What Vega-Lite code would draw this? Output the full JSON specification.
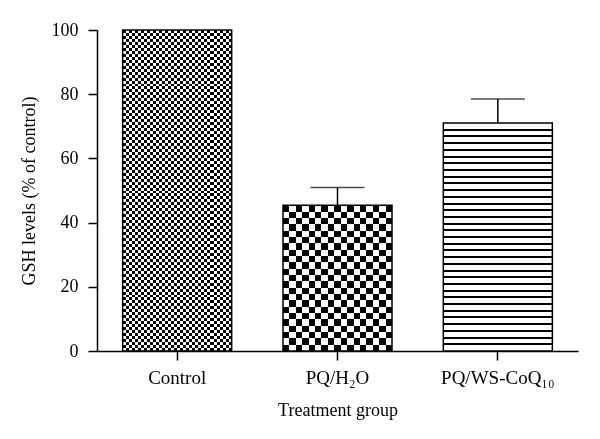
{
  "$schema": "https://vega.github.io/schema/vega-lite/v6.json",
  "autosize": "none",
  "padding": {"left": 97, "top": 30, "right": 22, "bottom": 88},
  "width": 481,
  "height": 321,
  "background": "white",
  "config": {
    "view": {"stroke": null},
    "font": "Liberation Serif",
    "axis": {"domainColor": "black", "domainWidth": 1.5, "tickColor": "black", "tickWidth": 1.5, "tickSize": 9, "labelFont": "Liberation Serif", "labelFontSize": 18, "labelColor": "black", "titleFont": "Liberation Serif", "titleFontSize": 18, "titleFontWeight": "normal", "titleColor": "black", "grid": false},
    "axisY": {"labelPadding": 10, "titlePadding": 13},
    "axisX": {"labelAngle": 0, "labelPadding": 8, "titlePadding": 14, "labelFontSize": 19}
  },
  "data": {"values": [
    {"group": "Control", "value": 100},
    {"group": "PQ/H₂O", "value": 45.4, "upper": 50.9},
    {"group": "PQ/WS-CoQ₁₀", "value": 71, "upper": 78.5}
  ]},
  "encoding": {
    "x": {"field": "group", "type": "nominal", "sort": null, "title": "Treatment group", "scale": {"paddingInner": 0.32, "paddingOuter": 0.16}},
    "y": {"field": "value", "type": "quantitative", "title": "GSH levels (% of control)", "scale": {"domain": [0, 100], "nice": false}, "axis": {"values": [0, 20, 40, 60, 80, 100]}}
  },
  "layer": [
    {
      "transform": [{"filter": "datum.group === 'Control'"}],
      "mark": {"type": "bar", "fill": {"gradient": "linear", "x1": 0, "y1": 0, "x2": 1, "y2": 0, "stops": [
        {"offset": 0, "color": "#fff"},
        {"offset": 0.0278, "color": "#fff"}, {"offset": 0.0278, "color": "#000"},
        {"offset": 0.0556, "color": "#000"}, {"offset": 0.0556, "color": "#fff"},
        {"offset": 0.0833, "color": "#fff"}, {"offset": 0.0833, "color": "#000"},
        {"offset": 0.1111, "color": "#000"}, {"offset": 0.1111, "color": "#fff"},
        {"offset": 0.1389, "color": "#fff"}, {"offset": 0.1389, "color": "#000"},
        {"offset": 0.1667, "color": "#000"}, {"offset": 0.1667, "color": "#fff"},
        {"offset": 0.1944, "color": "#fff"}, {"offset": 0.1944, "color": "#000"},
        {"offset": 0.2222, "color": "#000"}, {"offset": 0.2222, "color": "#fff"},
        {"offset": 0.25, "color": "#fff"}, {"offset": 0.25, "color": "#000"},
        {"offset": 0.2778, "color": "#000"}, {"offset": 0.2778, "color": "#fff"},
        {"offset": 0.3056, "color": "#fff"}, {"offset": 0.3056, "color": "#000"},
        {"offset": 0.3333, "color": "#000"}, {"offset": 0.3333, "color": "#fff"},
        {"offset": 0.3611, "color": "#fff"}, {"offset": 0.3611, "color": "#000"},
        {"offset": 0.3889, "color": "#000"}, {"offset": 0.3889, "color": "#fff"},
        {"offset": 0.4167, "color": "#fff"}, {"offset": 0.4167, "color": "#000"},
        {"offset": 0.4444, "color": "#000"}, {"offset": 0.4444, "color": "#fff"},
        {"offset": 0.4722, "color": "#fff"}, {"offset": 0.4722, "color": "#000"},
        {"offset": 0.5, "color": "#000"}, {"offset": 0.5, "color": "#fff"},
        {"offset": 0.5278, "color": "#fff"}, {"offset": 0.5278, "color": "#000"},
        {"offset": 0.5556, "color": "#000"}, {"offset": 0.5556, "color": "#fff"},
        {"offset": 0.5833, "color": "#fff"}, {"offset": 0.5833, "color": "#000"},
        {"offset": 0.6111, "color": "#000"}, {"offset": 0.6111, "color": "#fff"},
        {"offset": 0.6389, "color": "#fff"}, {"offset": 0.6389, "color": "#000"},
        {"offset": 0.6667, "color": "#000"}, {"offset": 0.6667, "color": "#fff"},
        {"offset": 0.6944, "color": "#fff"}, {"offset": 0.6944, "color": "#000"},
        {"offset": 0.7222, "color": "#000"}, {"offset": 0.7222, "color": "#fff"},
        {"offset": 0.75, "color": "#fff"}, {"offset": 0.75, "color": "#000"},
        {"offset": 0.7778, "color": "#000"}, {"offset": 0.7778, "color": "#fff"},
        {"offset": 0.8056, "color": "#fff"}, {"offset": 0.8056, "color": "#000"},
        {"offset": 0.8333, "color": "#000"}, {"offset": 0.8333, "color": "#fff"},
        {"offset": 0.8611, "color": "#fff"}, {"offset": 0.8611, "color": "#000"},
        {"offset": 0.8889, "color": "#000"}, {"offset": 0.8889, "color": "#fff"},
        {"offset": 0.9167, "color": "#fff"}, {"offset": 0.9167, "color": "#000"},
        {"offset": 0.9444, "color": "#000"}, {"offset": 0.9444, "color": "#fff"},
        {"offset": 0.9722, "color": "#fff"}, {"offset": 0.9722, "color": "#000"},
        {"offset": 1, "color": "#000"}
      ]}}
    },
    {
      "transform": [{"filter": "datum.group === 'Control'"}],
      "mark": {"type": "bar", "blend": "difference", "fill": {"gradient": "linear", "x1": 0, "y1": 0, "x2": 0, "y2": 1, "stops": [
        {"offset": 0, "color": "#fff"},
        {"offset": 0.0093, "color": "#fff"}, {"offset": 0.0093, "color": "#000"},
        {"offset": 0.0185, "color": "#000"}, {"offset": 0.0185, "color": "#fff"},
        {"offset": 0.0278, "color": "#fff"}, {"offset": 0.0278, "color": "#000"},
        {"offset": 0.037, "color": "#000"}, {"offset": 0.037, "color": "#fff"},
        {"offset": 0.0463, "color": "#fff"}, {"offset": 0.0463, "color": "#000"},
        {"offset": 0.0556, "color": "#000"}, {"offset": 0.0556, "color": "#fff"},
        {"offset": 0.0648, "color": "#fff"}, {"offset": 0.0648, "color": "#000"},
        {"offset": 0.0741, "color": "#000"}, {"offset": 0.0741, "color": "#fff"},
        {"offset": 0.0833, "color": "#fff"}, {"offset": 0.0833, "color": "#000"},
        {"offset": 0.0926, "color": "#000"}, {"offset": 0.0926, "color": "#fff"},
        {"offset": 0.1019, "color": "#fff"}, {"offset": 0.1019, "color": "#000"},
        {"offset": 0.1111, "color": "#000"}, {"offset": 0.1111, "color": "#fff"},
        {"offset": 0.1204, "color": "#fff"}, {"offset": 0.1204, "color": "#000"},
        {"offset": 0.1296, "color": "#000"}, {"offset": 0.1296, "color": "#fff"},
        {"offset": 0.1389, "color": "#fff"}, {"offset": 0.1389, "color": "#000"},
        {"offset": 0.1481, "color": "#000"}, {"offset": 0.1481, "color": "#fff"},
        {"offset": 0.1574, "color": "#fff"}, {"offset": 0.1574, "color": "#000"},
        {"offset": 0.1667, "color": "#000"}, {"offset": 0.1667, "color": "#fff"},
        {"offset": 0.1759, "color": "#fff"}, {"offset": 0.1759, "color": "#000"},
        {"offset": 0.1852, "color": "#000"}, {"offset": 0.1852, "color": "#fff"},
        {"offset": 0.1944, "color": "#fff"}, {"offset": 0.1944, "color": "#000"},
        {"offset": 0.2037, "color": "#000"}, {"offset": 0.2037, "color": "#fff"},
        {"offset": 0.213, "color": "#fff"}, {"offset": 0.213, "color": "#000"},
        {"offset": 0.2222, "color": "#000"}, {"offset": 0.2222, "color": "#fff"},
        {"offset": 0.2315, "color": "#fff"}, {"offset": 0.2315, "color": "#000"},
        {"offset": 0.2407, "color": "#000"}, {"offset": 0.2407, "color": "#fff"},
        {"offset": 0.25, "color": "#fff"}, {"offset": 0.25, "color": "#000"},
        {"offset": 0.2593, "color": "#000"}, {"offset": 0.2593, "color": "#fff"},
        {"offset": 0.2685, "color": "#fff"}, {"offset": 0.2685, "color": "#000"},
        {"offset": 0.2778, "color": "#000"}, {"offset": 0.2778, "color": "#fff"},
        {"offset": 0.287, "color": "#fff"}, {"offset": 0.287, "color": "#000"},
        {"offset": 0.2963, "color": "#000"}, {"offset": 0.2963, "color": "#fff"},
        {"offset": 0.3056, "color": "#fff"}, {"offset": 0.3056, "color": "#000"},
        {"offset": 0.3148, "color": "#000"}, {"offset": 0.3148, "color": "#fff"},
        {"offset": 0.3241, "color": "#fff"}, {"offset": 0.3241, "color": "#000"},
        {"offset": 0.3333, "color": "#000"}, {"offset": 0.3333, "color": "#fff"},
        {"offset": 0.3426, "color": "#fff"}, {"offset": 0.3426, "color": "#000"},
        {"offset": 0.3519, "color": "#000"}, {"offset": 0.3519, "color": "#fff"},
        {"offset": 0.3611, "color": "#fff"}, {"offset": 0.3611, "color": "#000"},
        {"offset": 0.3704, "color": "#000"}, {"offset": 0.3704, "color": "#fff"},
        {"offset": 0.3796, "color": "#fff"}, {"offset": 0.3796, "color": "#000"},
        {"offset": 0.3889, "color": "#000"}, {"offset": 0.3889, "color": "#fff"},
        {"offset": 0.3981, "color": "#fff"}, {"offset": 0.3981, "color": "#000"},
        {"offset": 0.4074, "color": "#000"}, {"offset": 0.4074, "color": "#fff"},
        {"offset": 0.4167, "color": "#fff"}, {"offset": 0.4167, "color": "#000"},
        {"offset": 0.4259, "color": "#000"}, {"offset": 0.4259, "color": "#fff"},
        {"offset": 0.4352, "color": "#fff"}, {"offset": 0.4352, "color": "#000"},
        {"offset": 0.4444, "color": "#000"}, {"offset": 0.4444, "color": "#fff"},
        {"offset": 0.4537, "color": "#fff"}, {"offset": 0.4537, "color": "#000"},
        {"offset": 0.463, "color": "#000"}, {"offset": 0.463, "color": "#fff"},
        {"offset": 0.4722, "color": "#fff"}, {"offset": 0.4722, "color": "#000"},
        {"offset": 0.4815, "color": "#000"}, {"offset": 0.4815, "color": "#fff"},
        {"offset": 0.4907, "color": "#fff"}, {"offset": 0.4907, "color": "#000"},
        {"offset": 0.5, "color": "#000"}, {"offset": 0.5, "color": "#fff"},
        {"offset": 0.5093, "color": "#fff"}, {"offset": 0.5093, "color": "#000"},
        {"offset": 0.5185, "color": "#000"}, {"offset": 0.5185, "color": "#fff"},
        {"offset": 0.5278, "color": "#fff"}, {"offset": 0.5278, "color": "#000"},
        {"offset": 0.537, "color": "#000"}, {"offset": 0.537, "color": "#fff"},
        {"offset": 0.5463, "color": "#fff"}, {"offset": 0.5463, "color": "#000"},
        {"offset": 0.5556, "color": "#000"}, {"offset": 0.5556, "color": "#fff"},
        {"offset": 0.5648, "color": "#fff"}, {"offset": 0.5648, "color": "#000"},
        {"offset": 0.5741, "color": "#000"}, {"offset": 0.5741, "color": "#fff"},
        {"offset": 0.5833, "color": "#fff"}, {"offset": 0.5833, "color": "#000"},
        {"offset": 0.5926, "color": "#000"}, {"offset": 0.5926, "color": "#fff"},
        {"offset": 0.6019, "color": "#fff"}, {"offset": 0.6019, "color": "#000"},
        {"offset": 0.6111, "color": "#000"}, {"offset": 0.6111, "color": "#fff"},
        {"offset": 0.6204, "color": "#fff"}, {"offset": 0.6204, "color": "#000"},
        {"offset": 0.6296, "color": "#000"}, {"offset": 0.6296, "color": "#fff"},
        {"offset": 0.6389, "color": "#fff"}, {"offset": 0.6389, "color": "#000"},
        {"offset": 0.6481, "color": "#000"}, {"offset": 0.6481, "color": "#fff"},
        {"offset": 0.6574, "color": "#fff"}, {"offset": 0.6574, "color": "#000"},
        {"offset": 0.6667, "color": "#000"}, {"offset": 0.6667, "color": "#fff"},
        {"offset": 0.6759, "color": "#fff"}, {"offset": 0.6759, "color": "#000"},
        {"offset": 0.6852, "color": "#000"}, {"offset": 0.6852, "color": "#fff"},
        {"offset": 0.6944, "color": "#fff"}, {"offset": 0.6944, "color": "#000"},
        {"offset": 0.7037, "color": "#000"}, {"offset": 0.7037, "color": "#fff"},
        {"offset": 0.713, "color": "#fff"}, {"offset": 0.713, "color": "#000"},
        {"offset": 0.7222, "color": "#000"}, {"offset": 0.7222, "color": "#fff"},
        {"offset": 0.7315, "color": "#fff"}, {"offset": 0.7315, "color": "#000"},
        {"offset": 0.7407, "color": "#000"}, {"offset": 0.7407, "color": "#fff"},
        {"offset": 0.75, "color": "#fff"}, {"offset": 0.75, "color": "#000"},
        {"offset": 0.7593, "color": "#000"}, {"offset": 0.7593, "color": "#fff"},
        {"offset": 0.7685, "color": "#fff"}, {"offset": 0.7685, "color": "#000"},
        {"offset": 0.7778, "color": "#000"}, {"offset": 0.7778, "color": "#fff"},
        {"offset": 0.787, "color": "#fff"}, {"offset": 0.787, "color": "#000"},
        {"offset": 0.7963, "color": "#000"}, {"offset": 0.7963, "color": "#fff"},
        {"offset": 0.8056, "color": "#fff"}, {"offset": 0.8056, "color": "#000"},
        {"offset": 0.8148, "color": "#000"}, {"offset": 0.8148, "color": "#fff"},
        {"offset": 0.8241, "color": "#fff"}, {"offset": 0.8241, "color": "#000"},
        {"offset": 0.8333, "color": "#000"}, {"offset": 0.8333, "color": "#fff"},
        {"offset": 0.8426, "color": "#fff"}, {"offset": 0.8426, "color": "#000"},
        {"offset": 0.8519, "color": "#000"}, {"offset": 0.8519, "color": "#fff"},
        {"offset": 0.8611, "color": "#fff"}, {"offset": 0.8611, "color": "#000"},
        {"offset": 0.8704, "color": "#000"}, {"offset": 0.8704, "color": "#fff"},
        {"offset": 0.8796, "color": "#fff"}, {"offset": 0.8796, "color": "#000"},
        {"offset": 0.8889, "color": "#000"}, {"offset": 0.8889, "color": "#fff"},
        {"offset": 0.8981, "color": "#fff"}, {"offset": 0.8981, "color": "#000"},
        {"offset": 0.9074, "color": "#000"}, {"offset": 0.9074, "color": "#fff"},
        {"offset": 0.9167, "color": "#fff"}, {"offset": 0.9167, "color": "#000"},
        {"offset": 0.9259, "color": "#000"}, {"offset": 0.9259, "color": "#fff"},
        {"offset": 0.9352, "color": "#fff"}, {"offset": 0.9352, "color": "#000"},
        {"offset": 0.9444, "color": "#000"}, {"offset": 0.9444, "color": "#fff"},
        {"offset": 0.9537, "color": "#fff"}, {"offset": 0.9537, "color": "#000"},
        {"offset": 0.963, "color": "#000"}, {"offset": 0.963, "color": "#fff"},
        {"offset": 0.9722, "color": "#fff"}, {"offset": 0.9722, "color": "#000"},
        {"offset": 0.9815, "color": "#000"}, {"offset": 0.9815, "color": "#fff"},
        {"offset": 0.9907, "color": "#fff"}, {"offset": 0.9907, "color": "#000"},
        {"offset": 1, "color": "#000"}
      ]}}
    },
    {
      "transform": [{"filter": "datum.group === 'PQ/H₂O'"}],
      "mark": {"type": "bar", "fill": {"gradient": "linear", "x1": 0, "y1": 0, "x2": 1, "y2": 0, "stops": [
        {"offset": 0, "color": "#fff"},
        {"offset": 0.0588, "color": "#fff"}, {"offset": 0.0588, "color": "#000"},
        {"offset": 0.1176, "color": "#000"}, {"offset": 0.1176, "color": "#fff"},
        {"offset": 0.1765, "color": "#fff"}, {"offset": 0.1765, "color": "#000"},
        {"offset": 0.2353, "color": "#000"}, {"offset": 0.2353, "color": "#fff"},
        {"offset": 0.2941, "color": "#fff"}, {"offset": 0.2941, "color": "#000"},
        {"offset": 0.3529, "color": "#000"}, {"offset": 0.3529, "color": "#fff"},
        {"offset": 0.4118, "color": "#fff"}, {"offset": 0.4118, "color": "#000"},
        {"offset": 0.4706, "color": "#000"}, {"offset": 0.4706, "color": "#fff"},
        {"offset": 0.5294, "color": "#fff"}, {"offset": 0.5294, "color": "#000"},
        {"offset": 0.5882, "color": "#000"}, {"offset": 0.5882, "color": "#fff"},
        {"offset": 0.6471, "color": "#fff"}, {"offset": 0.6471, "color": "#000"},
        {"offset": 0.7059, "color": "#000"}, {"offset": 0.7059, "color": "#fff"},
        {"offset": 0.7647, "color": "#fff"}, {"offset": 0.7647, "color": "#000"},
        {"offset": 0.8235, "color": "#000"}, {"offset": 0.8235, "color": "#fff"},
        {"offset": 0.8824, "color": "#fff"}, {"offset": 0.8824, "color": "#000"},
        {"offset": 0.9412, "color": "#000"}, {"offset": 0.9412, "color": "#fff"},
        {"offset": 1, "color": "#fff"}
      ]}}
    },
    {
      "transform": [{"filter": "datum.group === 'PQ/H₂O'"}],
      "mark": {"type": "bar", "blend": "difference", "fill": {"gradient": "linear", "x1": 0, "y1": 0, "x2": 0, "y2": 1, "stops": [
        {"offset": 0, "color": "#fff"},
        {"offset": 0.0435, "color": "#fff"}, {"offset": 0.0435, "color": "#000"},
        {"offset": 0.087, "color": "#000"}, {"offset": 0.087, "color": "#fff"},
        {"offset": 0.1304, "color": "#fff"}, {"offset": 0.1304, "color": "#000"},
        {"offset": 0.1739, "color": "#000"}, {"offset": 0.1739, "color": "#fff"},
        {"offset": 0.2174, "color": "#fff"}, {"offset": 0.2174, "color": "#000"},
        {"offset": 0.2609, "color": "#000"}, {"offset": 0.2609, "color": "#fff"},
        {"offset": 0.3043, "color": "#fff"}, {"offset": 0.3043, "color": "#000"},
        {"offset": 0.3478, "color": "#000"}, {"offset": 0.3478, "color": "#fff"},
        {"offset": 0.3913, "color": "#fff"}, {"offset": 0.3913, "color": "#000"},
        {"offset": 0.4348, "color": "#000"}, {"offset": 0.4348, "color": "#fff"},
        {"offset": 0.4783, "color": "#fff"}, {"offset": 0.4783, "color": "#000"},
        {"offset": 0.5217, "color": "#000"}, {"offset": 0.5217, "color": "#fff"},
        {"offset": 0.5652, "color": "#fff"}, {"offset": 0.5652, "color": "#000"},
        {"offset": 0.6087, "color": "#000"}, {"offset": 0.6087, "color": "#fff"},
        {"offset": 0.6522, "color": "#fff"}, {"offset": 0.6522, "color": "#000"},
        {"offset": 0.6957, "color": "#000"}, {"offset": 0.6957, "color": "#fff"},
        {"offset": 0.7391, "color": "#fff"}, {"offset": 0.7391, "color": "#000"},
        {"offset": 0.7826, "color": "#000"}, {"offset": 0.7826, "color": "#fff"},
        {"offset": 0.8261, "color": "#fff"}, {"offset": 0.8261, "color": "#000"},
        {"offset": 0.8696, "color": "#000"}, {"offset": 0.8696, "color": "#fff"},
        {"offset": 0.913, "color": "#fff"}, {"offset": 0.913, "color": "#000"},
        {"offset": 0.9565, "color": "#000"}, {"offset": 0.9565, "color": "#fff"},
        {"offset": 1, "color": "#fff"}
      ]}}
    },
    {
      "transform": [{"filter": "datum.group === 'PQ/WS-CoQ₁₀'"}],
      "mark": {"type": "bar", "fill": {"gradient": "linear", "x1": 0, "y1": 0, "x2": 0, "y2": 1, "stops": [
        {"offset": 0, "color": "#fff"},
        {"offset": 0.025, "color": "#fff"}, {"offset": 0.025, "color": "#000"}, {"offset": 0.0338, "color": "#000"}, {"offset": 0.0338, "color": "#fff"},
        {"offset": 0.0544, "color": "#fff"}, {"offset": 0.0544, "color": "#000"}, {"offset": 0.0632, "color": "#000"}, {"offset": 0.0632, "color": "#fff"},
        {"offset": 0.0838, "color": "#fff"}, {"offset": 0.0838, "color": "#000"}, {"offset": 0.0926, "color": "#000"}, {"offset": 0.0926, "color": "#fff"},
        {"offset": 0.1132, "color": "#fff"}, {"offset": 0.1132, "color": "#000"}, {"offset": 0.122, "color": "#000"}, {"offset": 0.122, "color": "#fff"},
        {"offset": 0.1427, "color": "#fff"}, {"offset": 0.1427, "color": "#000"}, {"offset": 0.1515, "color": "#000"}, {"offset": 0.1515, "color": "#fff"},
        {"offset": 0.1721, "color": "#fff"}, {"offset": 0.1721, "color": "#000"}, {"offset": 0.1809, "color": "#000"}, {"offset": 0.1809, "color": "#fff"},
        {"offset": 0.2015, "color": "#fff"}, {"offset": 0.2015, "color": "#000"}, {"offset": 0.2103, "color": "#000"}, {"offset": 0.2103, "color": "#fff"},
        {"offset": 0.2309, "color": "#fff"}, {"offset": 0.2309, "color": "#000"}, {"offset": 0.2397, "color": "#000"}, {"offset": 0.2397, "color": "#fff"},
        {"offset": 0.2603, "color": "#fff"}, {"offset": 0.2603, "color": "#000"}, {"offset": 0.2691, "color": "#000"}, {"offset": 0.2691, "color": "#fff"},
        {"offset": 0.2897, "color": "#fff"}, {"offset": 0.2897, "color": "#000"}, {"offset": 0.2985, "color": "#000"}, {"offset": 0.2985, "color": "#fff"},
        {"offset": 0.3191, "color": "#fff"}, {"offset": 0.3191, "color": "#000"}, {"offset": 0.3279, "color": "#000"}, {"offset": 0.3279, "color": "#fff"},
        {"offset": 0.3485, "color": "#fff"}, {"offset": 0.3485, "color": "#000"}, {"offset": 0.3573, "color": "#000"}, {"offset": 0.3573, "color": "#fff"},
        {"offset": 0.378, "color": "#fff"}, {"offset": 0.378, "color": "#000"}, {"offset": 0.3868, "color": "#000"}, {"offset": 0.3868, "color": "#fff"},
        {"offset": 0.4074, "color": "#fff"}, {"offset": 0.4074, "color": "#000"}, {"offset": 0.4162, "color": "#000"}, {"offset": 0.4162, "color": "#fff"},
        {"offset": 0.4368, "color": "#fff"}, {"offset": 0.4368, "color": "#000"}, {"offset": 0.4456, "color": "#000"}, {"offset": 0.4456, "color": "#fff"},
        {"offset": 0.4662, "color": "#fff"}, {"offset": 0.4662, "color": "#000"}, {"offset": 0.475, "color": "#000"}, {"offset": 0.475, "color": "#fff"},
        {"offset": 0.4956, "color": "#fff"}, {"offset": 0.4956, "color": "#000"}, {"offset": 0.5044, "color": "#000"}, {"offset": 0.5044, "color": "#fff"},
        {"offset": 0.525, "color": "#fff"}, {"offset": 0.525, "color": "#000"}, {"offset": 0.5338, "color": "#000"}, {"offset": 0.5338, "color": "#fff"},
        {"offset": 0.5544, "color": "#fff"}, {"offset": 0.5544, "color": "#000"}, {"offset": 0.5632, "color": "#000"}, {"offset": 0.5632, "color": "#fff"},
        {"offset": 0.5838, "color": "#fff"}, {"offset": 0.5838, "color": "#000"}, {"offset": 0.5926, "color": "#000"}, {"offset": 0.5926, "color": "#fff"},
        {"offset": 0.6132, "color": "#fff"}, {"offset": 0.6132, "color": "#000"}, {"offset": 0.622, "color": "#000"}, {"offset": 0.622, "color": "#fff"},
        {"offset": 0.6427, "color": "#fff"}, {"offset": 0.6427, "color": "#000"}, {"offset": 0.6515, "color": "#000"}, {"offset": 0.6515, "color": "#fff"},
        {"offset": 0.6721, "color": "#fff"}, {"offset": 0.6721, "color": "#000"}, {"offset": 0.6809, "color": "#000"}, {"offset": 0.6809, "color": "#fff"},
        {"offset": 0.7015, "color": "#fff"}, {"offset": 0.7015, "color": "#000"}, {"offset": 0.7103, "color": "#000"}, {"offset": 0.7103, "color": "#fff"},
        {"offset": 0.7309, "color": "#fff"}, {"offset": 0.7309, "color": "#000"}, {"offset": 0.7397, "color": "#000"}, {"offset": 0.7397, "color": "#fff"},
        {"offset": 0.7603, "color": "#fff"}, {"offset": 0.7603, "color": "#000"}, {"offset": 0.7691, "color": "#000"}, {"offset": 0.7691, "color": "#fff"},
        {"offset": 0.7897, "color": "#fff"}, {"offset": 0.7897, "color": "#000"}, {"offset": 0.7985, "color": "#000"}, {"offset": 0.7985, "color": "#fff"},
        {"offset": 0.8191, "color": "#fff"}, {"offset": 0.8191, "color": "#000"}, {"offset": 0.8279, "color": "#000"}, {"offset": 0.8279, "color": "#fff"},
        {"offset": 0.8485, "color": "#fff"}, {"offset": 0.8485, "color": "#000"}, {"offset": 0.8573, "color": "#000"}, {"offset": 0.8573, "color": "#fff"},
        {"offset": 0.878, "color": "#fff"}, {"offset": 0.878, "color": "#000"}, {"offset": 0.8868, "color": "#000"}, {"offset": 0.8868, "color": "#fff"},
        {"offset": 0.9074, "color": "#fff"}, {"offset": 0.9074, "color": "#000"}, {"offset": 0.9162, "color": "#000"}, {"offset": 0.9162, "color": "#fff"},
        {"offset": 0.9368, "color": "#fff"}, {"offset": 0.9368, "color": "#000"}, {"offset": 0.9456, "color": "#000"}, {"offset": 0.9456, "color": "#fff"},
        {"offset": 0.9662, "color": "#fff"}, {"offset": 0.9662, "color": "#000"}, {"offset": 0.975, "color": "#000"}, {"offset": 0.975, "color": "#fff"},
        {"offset": 1, "color": "#fff"}
      ]}}
    },
    {
      "mark": {"type": "bar", "filled": false, "stroke": "black", "strokeWidth": 1.5}
    },
    {
      "transform": [{"filter": "isValid(datum.upper)"}],
      "mark": {"type": "rule", "color": "black", "strokeWidth": 1.5},
      "encoding": {"y2": {"field": "upper"}}
    },
    {
      "transform": [{"filter": "isValid(datum.upper)"}],
      "mark": {"type": "tick", "color": "black", "size": 54, "thickness": 1.5},
      "encoding": {"y": {"field": "upper", "type": "quantitative", "title": "GSH levels (% of control)", "axis": {"values": [0, 20, 40, 60, 80, 100]}}}
    }
  ]
}
